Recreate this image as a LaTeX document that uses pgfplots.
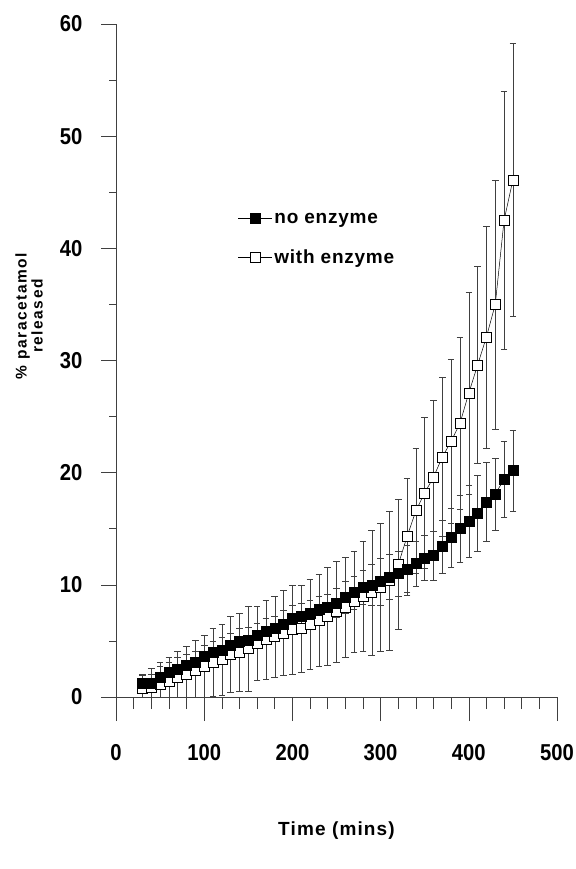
\documentclass[border=0pt]{standalone}
\usepackage{fontspec}
\setmainfont{Liberation Sans}
\usepackage{pgfplots}
\usepackage{pgfplotstable}
\pgfplotsset{compat=1.18}

\pgfplotstableread{
x y e
30 1.2 0.7
40 1.2 0.8
50 1.8 0.9
60 2.2 0.9
70 2.5 1.0
80 2.8 1.0
90 3.1 1.0
100 3.6 1.0
110 4.0 1.0
120 4.2 1.1
130 4.6 1.1
140 5.0 1.1
150 5.1 1.1
160 5.5 1.1
170 5.9 1.1
180 6.1 1.1
190 6.5 1.2
200 7.0 1.2
210 7.2 1.2
220 7.5 1.1
230 7.8 1.2
240 8.0 1.2
250 8.4 1.3
260 8.9 1.4
270 9.3 1.5
280 9.8 1.5
290 10.0 1.8
300 10.3 2.1
310 10.7 2.0
320 11.0 2.0
330 11.4 2.1
340 11.9 2.0
350 12.4 2.0
360 12.6 2.2
370 13.4 2.4
380 14.2 2.6
390 15.0 3.0
400 15.7 3.2
410 16.4 3.4
420 17.4 3.5
430 18.1 3.2
440 19.4 3.4
450 20.2 3.6
}\noenz

\pgfplotstableread{
x y e
30 0.8 1.2
40 0.9 1.7
50 1.1 2.0
60 1.4 2.1
70 1.75 2.35
80 2.0 2.5
90 2.4 2.7
100 2.7 2.8
110 3.1 3.0
120 3.35 3.15
130 3.8 3.4
140 4.0 3.5
150 4.3 3.75
160 4.8 3.3
170 5.1 3.5
180 5.4 3.6
190 5.7 3.8
200 6.0 4.0
210 6.1 3.9
220 6.5 4.0
230 6.8 4.1
240 7.2 4.4
250 7.6 4.5
260 8.0 4.5
270 8.5 4.5
280 9.0 4.9
290 9.3 5.6
300 9.8 5.7
310 10.4 6.2
320 11.8 5.8
330 14.3 5.2
340 16.6 5.6
350 18.2 6.7
360 19.6 6.9
370 21.4 7.1
380 22.8 7.3
390 24.4 7.7
400 27.1 9.0
410 29.6 8.8
420 32.1 9.9
430 35.0 11.1
440 42.5 11.5
450 46.1 12.2
}\withenz

\begin{document}
\begin{tikzpicture}
\useasboundingbox (0,0) rectangle (575pt,869pt);
\begin{axis}[
  at={(116pt,172pt)}, anchor=south west,
  scale only axis, width=441pt, height=673pt,
  xmin=0, xmax=500, ymin=0, ymax=60,
  hide x axis,
  axis y line*=left,
  axis line style={-, black!75, line width=0.6pt},
  ytick={0,10,...,60},
  minor y tick num=1,
  tick align=outside,
  major tick length=15pt, minor tick length=7pt,
  tick style={black!75, line width=0.6pt},
  /pgf/number format/assume math mode=true,
  yticklabel style={font=\bfseries\fontsize{23}{23}\selectfont\addfontfeature{FakeStretch=0.88}, xshift=-15pt},
  ylabel={\% paracetamol\\released},
  every axis y label/.style={at={(axis description cs:-0.197,0.566)}, rotate=90, anchor=center, align=center, font=\bfseries\fontsize{15.5}{16}\selectfont\addfontfeature{LetterSpace=10}},
  legend style={at={(axis cs:138,40.85)}, anchor=west, draw=none, fill=none, row sep=21pt, font=\bfseries\fontsize{19}{19}\selectfont\addfontfeature{LetterSpace=4}, inner sep=0pt},
  legend cell align=left,
  reverse legend,
  legend image code/.code={\draw[mark repeat=2,mark phase=2,#1] plot coordinates {(0pt,0pt) (17pt,0pt) (34pt,0pt)};},
]
\addplot[black, line width=0.5pt, mark=square*, mark size=5pt, mark options={fill=white, draw=black, line width=0.6pt},
  error bars/.cd, y dir=both, y explicit,
  error bar style={line width=0.5pt, black!75},
  error mark options={rotate=90, mark size=3.3pt, line width=0.5pt, black!75}]
  table[x=x, y=y, y error=e] {\withenz};
\addlegendentry{with enzyme}
\addplot[black, line width=0.5pt, mark=square*, mark size=5pt, mark options={fill=black, draw=black},
  error bars/.cd, y dir=both, y explicit,
  error bar style={line width=0.5pt, black!75},
  error mark options={rotate=90, mark size=3.3pt, line width=0.5pt, black!75}]
  table[x=x, y=y, y error=e] {\noenz};
\addlegendentry{no enzyme}
\end{axis}
\begin{axis}[
  at={(116pt,172pt)}, anchor=south west,
  scale only axis, width=441pt, height=673pt,
  xmin=0, xmax=500, ymin=0, ymax=60,
  hide y axis,
  axis x line*=bottom,
  axis line style={-, black!75, line width=0.6pt},
  xtick={0,100,...,500},
  minor x tick num=4,
  tick align=outside,
  major tick length=24pt, minor tick length=12pt,
  tick style={black!75, line width=0.6pt},
  /pgf/number format/assume math mode=true,
  xticklabel style={font=\bfseries\fontsize{23}{23}\selectfont\addfontfeature{FakeStretch=0.88}, yshift=-20pt},
  xlabel={Time (mins)},
  every axis x label/.style={at={(axis description cs:0.5,-0.198)}, anchor=center, font=\bfseries\fontsize{19}{19}\selectfont\addfontfeature{LetterSpace=6}},
]
\end{axis}
\end{tikzpicture}
\end{document}
